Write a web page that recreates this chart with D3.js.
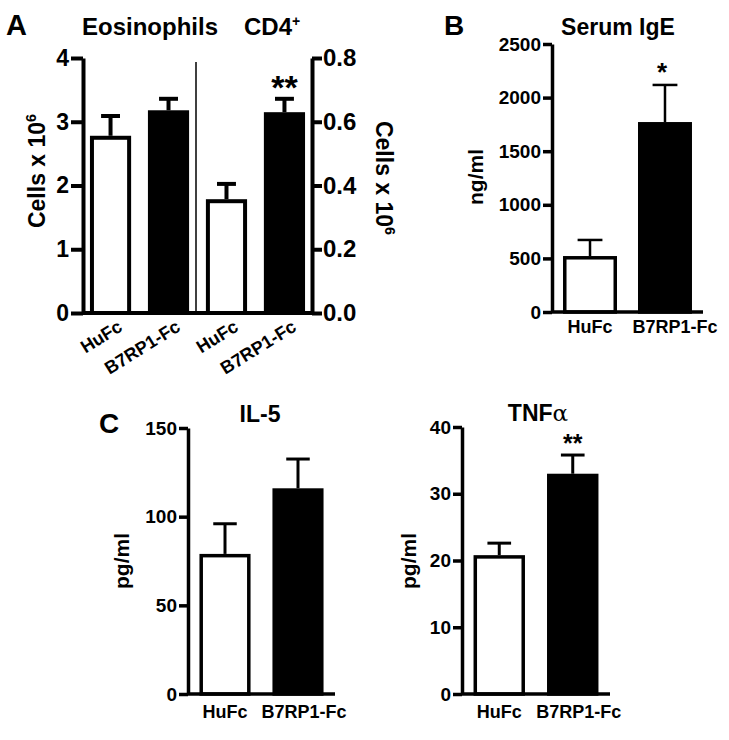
<!DOCTYPE html>
<html>
<head>
<meta charset="utf-8">
<script src="https://cdn.jsdelivr.net/npm/d3@7"></script>
<style>
  body { margin: 0; background: #fff; }
  svg { display: block; }
  text { font-family: "Liberation Sans", Arial, Helvetica, sans-serif; font-weight: bold; fill: #000; }
</style>
</head>
<body>
<svg id="chart" width="729" height="740"></svg>
<script>
// values (mean, SEM)
var groups = ["HuFc", "B7RP1-Fc"];
var eosMean = [2.78, 3.18], eosSem = [0.31, 0.18];
var cd4Mean = [0.357, 0.63], cd4Sem = [0.048, 0.042];
var igeMean = [522, 1772], igeSem = [150, 346];
var il5Mean = [79, 116], il5Sem = [17, 16.5];
var tnfMean = [20.8, 33], tnfSem = [1.8, 2.8];

var cellTicks = [0, 1, 2, 3, 4],
    cd4Ticks = [0, 0.2, 0.4, 0.6, 0.8],
    igeTicks = [0, 500, 1000, 1500, 2000, 2500],
    il5Ticks = [0, 50, 100, 150],
    tnfTicks = [0, 10, 20, 30, 40];

var fills = ["#fff", "#000"];

var svg = d3.select("#chart");

function axis(g, gen, sw, fs) {
  g.call(gen);
  g.select(".domain").attr("stroke", "#000").attr("stroke-width", sw);
  g.selectAll(".tick line").attr("stroke", "#000").attr("stroke-width", sw);
  g.selectAll(".tick text").style("font-size", fs + "px").style("font-weight", "bold").attr("fill", "#000");
}

function bars(parent, x, y, keys, means, sems, sw, ew) {
  var g = parent.append("g");
  var bw = x.bandwidth();
  var d = keys.map(function(k, i) { return {k: k, m: means[i], s: sems[i], i: i}; });
  g.selectAll("line.err").data(d).enter().append("line")
      .attr("class", "err")
      .attr("x1", function(d) { return x(d.k) + bw / 2; })
      .attr("x2", function(d) { return x(d.k) + bw / 2; })
      .attr("y1", function(d) { return y(d.m); })
      .attr("y2", function(d) { return y(d.m + d.s); })
      .attr("stroke", "#000").attr("stroke-width", ew);
  g.selectAll("line.cap").data(d).enter().append("line")
      .attr("class", "cap")
      .attr("x1", function(d) { return x(d.k) + bw * 0.27; })
      .attr("x2", function(d) { return x(d.k) + bw * 0.73; })
      .attr("y1", function(d) { return y(d.m + d.s); })
      .attr("y2", function(d) { return y(d.m + d.s); })
      .attr("stroke", "#000").attr("stroke-width", ew);
  g.selectAll("rect").data(d).enter().append("rect")
      .attr("x", function(d) { return x(d.k) + sw / 2; })
      .attr("y", function(d) { return y(d.m) + sw / 2; })
      .attr("width", bw - sw)
      .attr("height", function(d) { return y(0) - y(d.m) - sw / 2; })
      .attr("fill", function(d) { return fills[d.i % 2]; })
      .attr("stroke", "#000").attr("stroke-width", sw);
}

function vlabel(x, y, rot, txt, sup, fs) {
  var t = svg.append("text")
      .attr("transform", "translate(" + x + "," + y + ")rotate(" + rot + ")")
      .attr("text-anchor", "middle")
      .style("font-size", fs + "px")
      .text(txt);
  if (sup) t.append("tspan").attr("dy", -fs * 0.4).style("font-size", (fs * 0.62) + "px").text(sup);
}

function title(x, y, txt, fs, anchor) {
  return svg.append("text").attr("x", x).attr("y", y)
      .attr("text-anchor", anchor || "start")
      .style("font-size", fs + "px").text(txt);
}

// ---------- Panel A ----------
var aKeys = ["eos-HuFc", "eos-B7", "cd4-HuFc", "cd4-B7"];
var xA = d3.scaleBand().domain(aKeys).range([83, 312]).paddingInner(0.29).paddingOuter(0.12);
var yA = d3.scaleLinear().domain([0, 4]).range([313, 58]);
var yA2 = d3.scaleLinear().domain([0, 0.8]).range([313, 58]);
var gA = svg.append("g");

gA.append("line").attr("x1", 196).attr("x2", 196).attr("y1", 62).attr("y2", 313)
    .attr("stroke", "#000").attr("stroke-width", 1.5);
bars(gA, xA, yA, aKeys.slice(0, 2), eosMean, eosSem, 4, 4);
bars(gA, xA, yA2, aKeys.slice(2), cd4Mean, cd4Sem, 4, 4);
gA.append("line").attr("x1", 83).attr("x2", 312).attr("y1", 313).attr("y2", 313)
    .attr("stroke", "#000").attr("stroke-width", 4);
axis(gA.append("g").attr("transform", "translate(83,0)"),
     d3.axisLeft(yA).tickValues(cellTicks).tickSize(12).tickSizeOuter(0).tickPadding(2).tickFormat(d3.format("d")), 4, 23);
axis(gA.append("g").attr("transform", "translate(312,0)"),
     d3.axisRight(yA2).tickValues(cd4Ticks).tickSize(10).tickSizeOuter(0).tickPadding(1).tickFormat(d3.format(".1f")), 4, 24);

gA.selectAll("text.xl").data(aKeys).enter().append("text")
    .attr("class", "xl")
    .attr("text-anchor", "end")
    .attr("transform", function(k) { return "translate(" + (xA(k) + xA.bandwidth() / 2 + 13) + ",330)rotate(-32)"; })
    .style("font-size", "18px")
    .text(function(k, i) { return groups[i % 2]; });

title(6, 35, "A", 29);
title(82, 35, "Eosinophils", 24);
title(244, 35, "CD4", 24).append("tspan").attr("dy", -9).style("font-size", "14px").text("+");
vlabel(45, 171, -90, "Cells x 10", "6", 23);
vlabel(376, 178, 90, "Cells x 10", "6", 23);
title(xA("cd4-B7") + xA.bandwidth() / 2, 99, "**", 34, "middle");

// ---------- Panel B ----------
var xB = d3.scaleBand().domain(groups).range([552, 703]).paddingInner(0.28).paddingOuter(0.147);
var yB = d3.scaleLinear().domain([0, 2500]).range([312, 44]);
var gB = svg.append("g");
bars(gB, xB, yB, groups, igeMean, igeSem, 3.5, 2.5);
gB.append("line").attr("x1", 552).attr("x2", 703).attr("y1", 312).attr("y2", 312)
    .attr("stroke", "#000").attr("stroke-width", 3.5);
axis(gB.append("g").attr("transform", "translate(552,0)"),
     d3.axisLeft(yB).tickValues(igeTicks).tickSize(9).tickSizeOuter(0).tickPadding(2).tickFormat(d3.format("d")), 3.5, 19);
gB.selectAll("text.xl").data(groups).enter().append("text")
    .attr("class", "xl").attr("text-anchor", "middle")
    .attr("x", function(k, i) { return xB(k) + xB.bandwidth() / 2 + i * 10; })
    .attr("y", 333)
    .style("font-size", "18px").text(function(k) { return k; });
title(444, 35, "B", 28);
title(618, 35, "Serum IgE", 23, "middle");
vlabel(483, 177, -90, "ng/ml", null, 21);
title(xB("B7RP1-Fc") + xB.bandwidth() / 2 - 3, 81, "*", 26, "middle");

// ---------- Panel C ----------
function cytokine(x0, x1, y0, y1, ticks, means, sems, lx) {
  var x = d3.scaleBand().domain(groups).range([x0, x1]).paddingInner(0.3).paddingOuter(0.157);
  var y = d3.scaleLinear().domain([0, ticks[ticks.length - 1]]).range([y0, y1]);
  var g = svg.append("g");
  bars(g, x, y, groups, means, sems, 3.5, 3);
  g.append("line").attr("x1", x0).attr("x2", x1).attr("y1", y0).attr("y2", y0)
      .attr("stroke", "#000").attr("stroke-width", 3.5);
  axis(g.append("g").attr("transform", "translate(" + x0 + ",0)"),
       d3.axisLeft(y).tickValues(ticks).tickSize(9).tickSizeOuter(0).tickPadding(2).tickFormat(d3.format("d")), 3.5, 19);
  g.selectAll("text.xl").data(groups).enter().append("text")
      .attr("class", "xl").attr("text-anchor", "middle")
      .attr("x", function(k, i) { return x(k) + x.bandwidth() / 2 + i * 6; })
      .attr("y", 718)
      .style("font-size", "18px").text(function(k) { return k; });
  vlabel(lx, 561, -90, "pg/ml", null, 21);
  return {x: x, y: y};
}

cytokine(188, 335, 694, 428, il5Ticks, il5Mean, il5Sem, 129);
var tnf = cytokine(462, 610, 694, 427, tnfTicks, tnfMean, tnfSem, 416);

title(99, 433, "C", 28);
title(260, 422, "IL-5", 23, "middle");
var tt = title(538, 421, "TNF", 23, "middle");
tt.append("tspan").style("font-weight", "normal").style("font-family", "'DejaVu Serif', serif").text("α");
title(tnf.x("B7RP1-Fc") + tnf.x.bandwidth() / 2, 452, "**", 25, "middle");
</script>
</body>
</html>
